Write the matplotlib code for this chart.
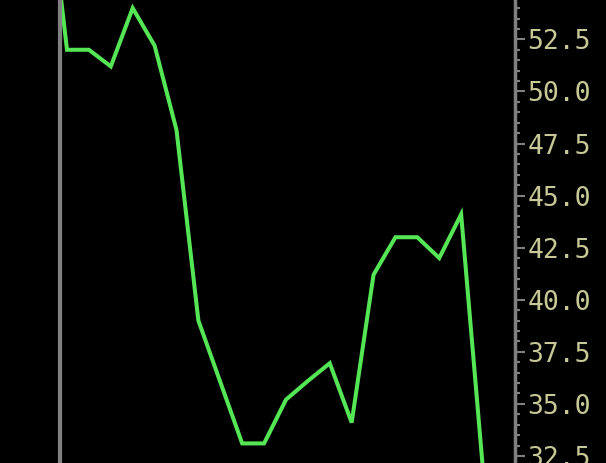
import numpy as np
import matplotlib
matplotlib.use("Agg")
import matplotlib.pyplot as plt
from matplotlib.ticker import MultipleLocator, FormatStrFormatter

# Kapanis degerleri
index = list(range(21))
close = [61.0, 52.0, 52.0, 51.2, 54.0, 52.2, 48.15, 39.0, 36.05, 33.1, 33.1,
         35.2, 36.1, 36.95, 34.1, 41.2, 43.0, 43.0, 42.0, 44.1, 31.8]
cursor_index = 0.68  # gri dikey imlec cizgisi

y_top = 54.39
y_bottom = 32.16
x_left = -2.06
x_right = 21.46

fig = plt.figure(figsize=(6.06, 4.63), dpi=100, facecolor="black")
ax = fig.add_axes([0, 0, 515 / 606, 1], facecolor="black")

ax.plot(index, close, color="#55e655", lw=2.9, solid_joinstyle="miter", zorder=2)
ax.axvline(cursor_index, color="#808080", lw=3, zorder=3)

ax.set_xlim(x_left, x_right)
ax.set_ylim(y_bottom, y_top)

for side in ["left", "top", "bottom"]:
    ax.spines[side].set_visible(False)
ax.spines["right"].set_color("#808080")
ax.spines["right"].set_linewidth(2.5)

ax.xaxis.set_visible(False)
ax.yaxis.tick_right()
ax.yaxis.set_major_locator(MultipleLocator(2.5))
ax.yaxis.set_minor_locator(MultipleLocator(0.5))
ax.yaxis.set_major_formatter(FormatStrFormatter("%.1f"))
ax.tick_params(axis="y", which="major", length=7, width=1.5, color="#808080",
               labelcolor="#c8c896", labelsize=19, pad=2)
ax.tick_params(axis="y", which="minor", length=3.6, width=1.5, color="#808080")
for lbl in ax.get_yticklabels():
    lbl.set_family("DejaVu Sans Mono")

fig.savefig("out.png", dpi=100, facecolor="black")
